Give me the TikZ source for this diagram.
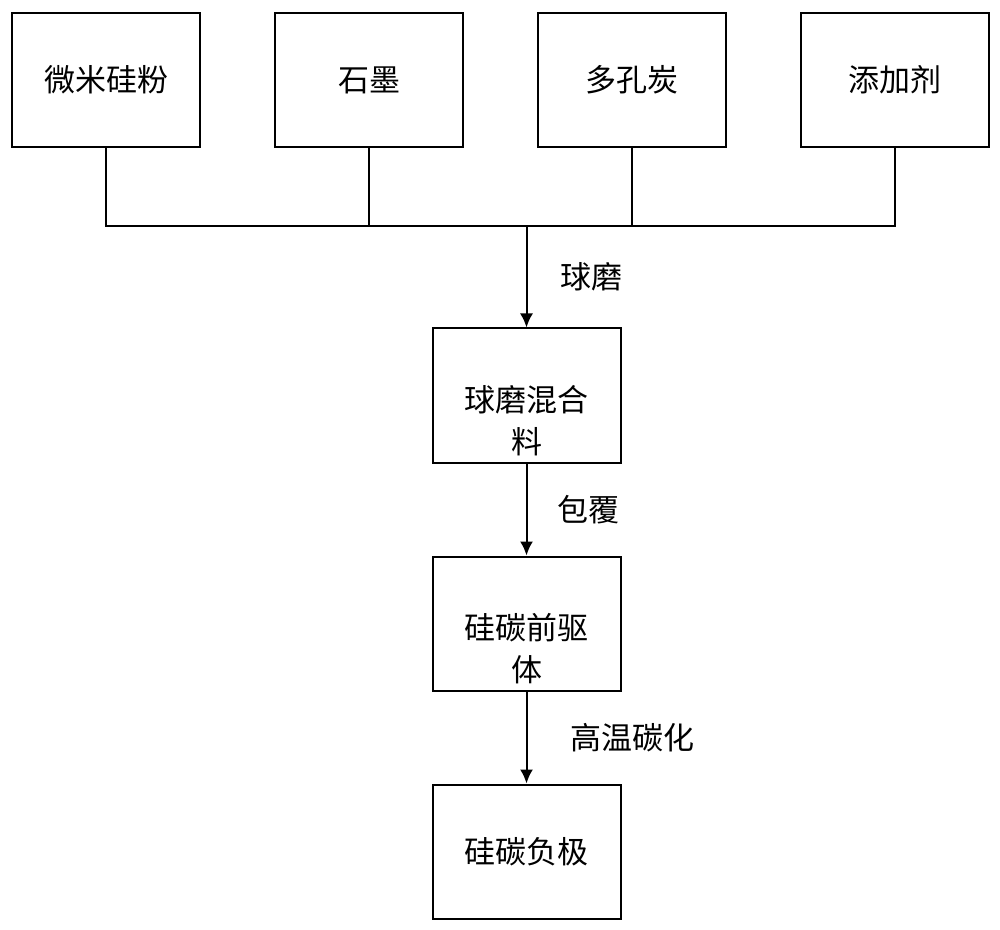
\documentclass[tikz,border=0pt]{standalone}
\usepackage{fontspec}
\setmainfont{Noto Sans CJK SC}
\usetikzlibrary{arrows.meta,positioning}
\tikzstyle{stepbox} = [draw, line width=1pt, rectangle, minimum width=94pt,
    minimum height=67pt, inner sep=0pt, font=\fontsize{15.5}{21}\selectfont]
\tikzstyle{boxtext} = [align=center, inner sep=0pt, font=\fontsize{15.5}{21}\selectfont]
\tikzstyle{lbl} = [right, inner sep=0pt, font=\fontsize{15.5}{18}\selectfont]
\tikzstyle{flow} = [line width=1pt, -{Latex[length=7pt,width=6.5pt]}]

\begin{document}
\begin{tikzpicture}[x=0.5pt, y=-0.5pt, node distance = 36.5pt]
  \useasboundingbox (0,0) rectangle (1000,930);
  % Raw materials
  \node [stepbox] (si) at (106,80) {微米硅粉};
  \node [stepbox, right=of si] (gr) {石墨};
  \node [stepbox, right=of gr] (pc) {多孔炭};
  \node [stepbox, right=of pc] (add) {添加剂};
  % Process chain
  \coordinate (bus) at (526.5,226);
  \node [stepbox] (mix) at (526.5,395.5) {};
  \node [boxtext] (mixtxt) at ([yshift=-12.5pt]mix.center) {球磨混合\\料};
  \node [stepbox, below=46pt of mix] (pre) {};
  \node [boxtext] (pretxt) at ([yshift=-12.5pt]pre.center) {硅碳前驱\\体};
  \node [stepbox, below=46pt of pre] (neg) {硅碳负极};
  % Collecting line
  \draw [line width=1pt] (si.south) -- (si.south |- bus) -- (add.south |- bus) -- (add.south);
  \draw [line width=1pt] (gr.south) -- (gr.south |- bus);
  \draw [line width=1pt] (pc.south) -- (pc.south |- bus);
  % Steps
  \draw [flow] (bus) -- node [lbl, xshift=16.5pt] (l1) {球磨} (mix);
  \draw [flow] (mix) -- node [lbl, xshift=15pt] (l2) {包覆} (pre);
  \draw [flow] (pre) -- node [lbl, xshift=21.5pt] (l3) {高温碳化} (neg);
\end{tikzpicture}
\end{document}
